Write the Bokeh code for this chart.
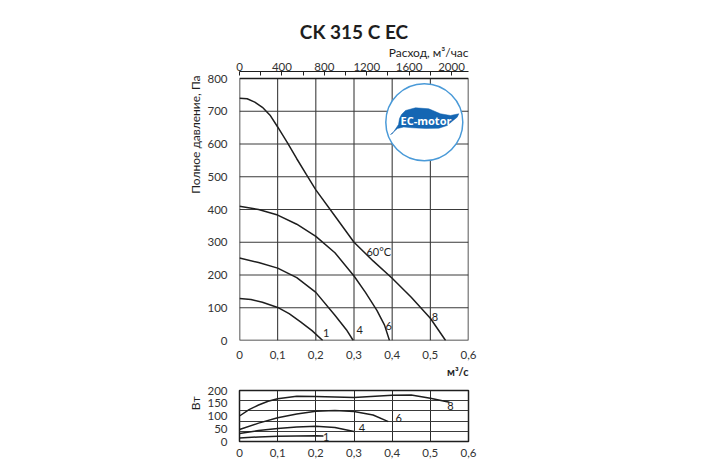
from bokeh.plotting import figure
from bokeh.models import Range1d, LinearAxis, FixedTicker, Label, CustomJSTickFormatter, Title
from bokeh.layouts import column
from bokeh.embed import file_html
from bokeh.resources import INLINE

# ---------------- data ----------------
title_text = "CK 315 C EC"
flow_label = "Расход, м³/час"
p_label = "Полное давление, Па"
w_label = "Вт"
q_label = "м³/с"

x_ticks = [0, 0.1, 0.2, 0.3, 0.4, 0.5, 0.6]
p_ticks = [0, 100, 200, 300, 400, 500, 600, 700, 800]
w_ticks = [0, 50, 100, 150, 200]
w_grid = [40, 80, 120, 160]
flow_ticks = [0, 200, 400, 600, 800, 1000, 1200, 1400, 1600, 1800, 2000]

# pressure curves (m3/s, Pa)
q8 = [0, 0.02, 0.04, 0.06, 0.08, 0.1, 0.125, 0.15, 0.175, 0.2, 0.25, 0.3, 0.35, 0.4, 0.45, 0.5, 0.54]
p8 = [740, 738, 728, 712, 688, 652, 605, 555, 507, 460, 380, 300, 243, 190, 132, 68, 0]
q6 = [0, 0.05, 0.1, 0.15, 0.2, 0.25, 0.3, 0.33, 0.36, 0.38, 0.393]
p6 = [410, 400, 383, 355, 318, 268, 197, 147, 92, 47, 0]
q4 = [0, 0.05, 0.1, 0.15, 0.2, 0.25, 0.28, 0.298]
p4 = [252, 238, 221, 192, 147, 77, 33, 0]
q1 = [0, 0.03, 0.06, 0.1, 0.13, 0.16, 0.19, 0.218]
p1 = [128, 125, 117, 101, 82, 57, 30, 0]

curve_names = ["1", "4", "6", "8"]
p_label_q = [0.227, 0.315, 0.391, 0.512]
p_label_p = [24, 32, 45, 73]
temp_text = "60°C"
temp_q, temp_p = 0.365, 271

# power curves (m3/s, W)
wq8 = [0, 0.025, 0.05, 0.075, 0.1, 0.15, 0.2, 0.3, 0.4, 0.45, 0.5, 0.55]
w8 = [100, 125, 143, 158, 168, 177, 176, 173, 181, 182, 170, 154]
wq6 = [0, 0.05, 0.1, 0.15, 0.2, 0.25, 0.3, 0.35, 0.39]
w6 = [47, 72, 93, 108, 119, 122, 118, 104, 78]
wq4 = [0, 0.05, 0.1, 0.15, 0.2, 0.25, 0.3]
w4 = [31, 43, 51, 57, 60, 55, 39]
wq1 = [0, 0.05, 0.1, 0.15, 0.2, 0.22]
w1 = [14, 18, 21, 22, 23, 22]
w_label_q = [0.227, 0.321, 0.417, 0.553]
w_label_w = [17, 54, 91, 141]

FONT = "Lato"
INK = "#1e1e1e"

# ---------------- main figure ----------------
PX_PER_PA = 262 / 800.0
YTOP = 800 + 7 / PX_PER_PA
PX_PER_Q = 229 / 0.6

p = figure(frame_width=229, frame_height=269, x_range=Range1d(0, 0.6), y_range=Range1d(0, YTOP),
           output_backend="svg", toolbar_location=None, tools="",
           min_border_left=239, min_border_right=230, min_border_top=71, min_border_bottom=45)
p.outline_line_color = None
p.xgrid.visible = False
p.ygrid.visible = False

fmt_q = CustomJSTickFormatter(code="return tick == 0 ? '0' : tick.toFixed(1).replace('.', ',');")

for ax in [p.xaxis[0], p.yaxis[0]]:
    ax.axis_line_color = None
    ax.major_tick_line_color = None
    ax.minor_tick_line_color = None
    ax.major_label_text_font = FONT
    ax.major_label_text_font_size = "11.5px"
    ax.major_label_text_color = "#333333"
p.xaxis.ticker = FixedTicker(ticks=x_ticks)
p.xaxis.formatter = fmt_q
p.xaxis.major_label_standoff = 4
p.yaxis.ticker = FixedTicker(ticks=p_ticks)
p.yaxis.major_label_standoff = 6

p.extra_x_ranges = {"flow": Range1d(0, 0.6 * 3600)}
top = LinearAxis(x_range_name="flow", ticker=FixedTicker(ticks=flow_ticks),
                 formatter=CustomJSTickFormatter(code="return tick % 400 == 0 ? String(tick) : '';"))
top.axis_line_color = INK
top.axis_line_width = 1.2
top.major_tick_in = 4
top.major_tick_out = 0
top.major_tick_line_color = INK
top.minor_tick_line_color = None
top.major_label_standoff = 1
top.major_label_text_font = FONT
top.major_label_text_font_size = "11.5px"
top.major_label_text_color = "#333333"
p.add_layout(top, "above")

p.add_layout(Title(text=flow_label, align="right", standoff=0, text_font=FONT, text_font_size="12px",
                   text_font_style="normal", text_color=INK), "above")
p.add_layout(Title(text=title_text, align="center", standoff=0, text_font=FONT, text_font_size="19px",
                   text_font_style="bold", text_color=INK), "above")
p.add_layout(Title(text=p_label, align="right", offset=4, standoff=3, text_font=FONT, text_font_size="12px",
                   text_font_style="normal", text_color=INK), "left")
p.add_layout(Title(text=q_label, align="right", standoff=3, text_font=FONT, text_font_size="11px",
                   text_font_style="bold", text_color=INK), "below")

# grid and box
gx = x_ticks[1:-1]
p.segment(x0=gx, y0=[0] * len(gx), x1=gx, y1=[800] * len(gx), line_color="#2a2a2a", line_width=1)
gy = p_ticks[1:-1]
p.segment(x0=[0] * len(gy), y0=gy, x1=[0.6] * len(gy), y1=gy, line_color="#3a3a3a", line_width=1)
p.quad(left=[0], right=[0.6], bottom=[0], top=[800], fill_color=None, line_color=INK, line_width=1.5)

for qq, pp in [(q1, p1), (q4, p4), (q6, p6), (q8, p8)]:
    p.line(qq, pp, line_color=INK, line_width=1.5)

for name, lq, lp in zip(curve_names, p_label_q, p_label_p):
    p.add_layout(Label(x=lq, y=lp, text=name, text_font=FONT, text_font_size="11px",
                       text_color=INK, text_align="center", text_baseline="middle"))
p.add_layout(Label(x=temp_q, y=temp_p, text=temp_text, text_font=FONT, text_font_size="11px",
                   text_color=INK, text_align="center", text_baseline="middle"))

# logo
LQ, LP = 0.4842, 666.6
p.scatter([LQ], [LP], size=77, marker="circle", fill_color="white", line_color="#4a9ad8", line_width=1.5)
leaf_dx = [-22.8, -18.8, -8.8, 4.5, 16.2, 26.2, 34.5, 32.9, 27.9, 22.9, 14.5, 1.2, -12.1, -20.5,
           -26.8, -33.8, -31.8, -25.8, -24.8]
leaf_dy = [-7.7, -11.7, -14.4, -13.4, -8.4, -6.7, -8.4, -5.0, -1.0, 3.3, 6.0, 6.2, 5.6, 4.8,
           6.3, 12.3, 11.3, 2.3, -3.7]
p.patch([LQ + d / PX_PER_Q for d in leaf_dx], [LP - d / PX_PER_PA for d in leaf_dy],
        fill_color="#1566b3", line_color="#1566b3", line_width=0.5)
p.add_layout(Label(x=LQ + 1.7 / PX_PER_Q, y=LP + 1.5 / PX_PER_PA, text="EC-motor", text_font="Open Sans",
                   text_font_style="bold", text_font_size="11px", text_color="white",
                   text_align="center", text_baseline="middle"))

# ---------------- power figure ----------------
b = figure(frame_width=229, frame_height=51, x_range=Range1d(0, 0.6), y_range=Range1d(0, 200),
           output_backend="svg", toolbar_location=None, tools="",
           min_border_left=239, min_border_right=230, min_border_top=5, min_border_bottom=20)
b.outline_line_color = INK
b.outline_line_width = 1.5
b.xgrid.ticker = FixedTicker(ticks=gx)
b.ygrid.ticker = FixedTicker(ticks=w_grid)
b.xgrid.grid_line_color = "#2a2a2a"
b.ygrid.grid_line_color = "#3a3a3a"
for ax in [b.xaxis[0], b.yaxis[0]]:
    ax.axis_line_color = None
    ax.major_tick_line_color = None
    ax.minor_tick_line_color = None
    ax.major_label_text_font = FONT
    ax.major_label_text_font_size = "11.5px"
    ax.major_label_text_color = "#333333"
b.xaxis.ticker = FixedTicker(ticks=x_ticks)
b.xaxis.formatter = fmt_q
b.xaxis.major_label_standoff = 1
b.yaxis.ticker = FixedTicker(ticks=w_ticks)
b.yaxis.major_label_standoff = 6
b.add_layout(Title(text=w_label, align="right", offset=6, standoff=3, text_font=FONT, text_font_size="12px",
                   text_font_style="normal", text_color=INK), "left")

for qq, ww in [(wq1, w1), (wq4, w4), (wq6, w6), (wq8, w8)]:
    b.line(qq, ww, line_color=INK, line_width=1.5)
for name, lq, lw in zip(curve_names, w_label_q, w_label_w):
    b.add_layout(Label(x=lq, y=lw, text=name, text_font=FONT, text_font_size="11px",
                       text_color=INK, text_align="center", text_baseline="middle"))

layout = column(p, b, spacing=0)
open("out.html", "w").write(file_html(layout, INLINE))
